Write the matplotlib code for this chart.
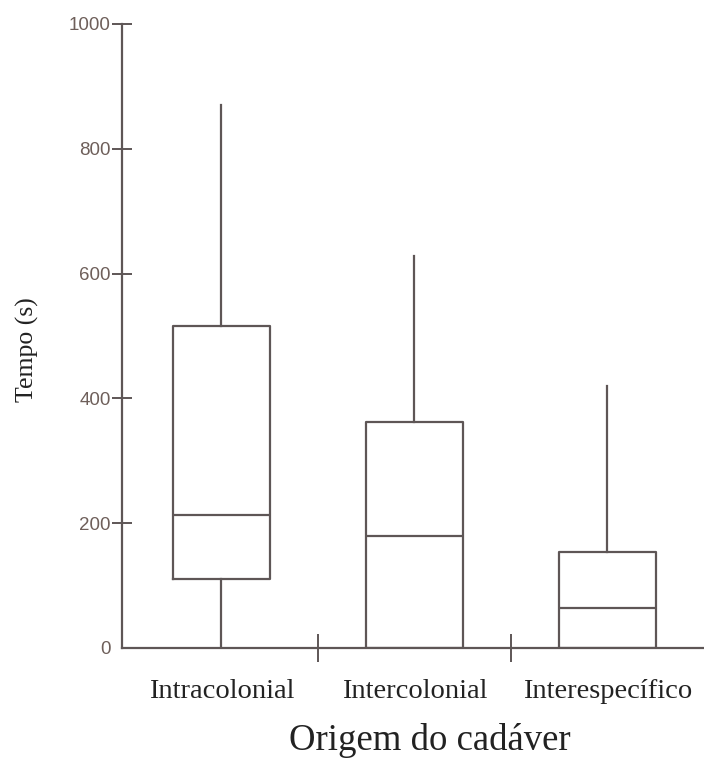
import matplotlib
matplotlib.use("Agg")
import matplotlib.pyplot as plt
from matplotlib.ticker import FixedLocator

categories = ["Intracolonial", "Intercolonial", "Interespecífico"]
q1 = [110, 0, 0]
median = [213, 180, 64]
q3 = [516, 362, 154]
whislo = [0, 0, 0]
whishi = [870, 628, 420]
yticks = [0, 200, 400, 600, 800, 1000]

line_c = "#5e5656"
tick_c = "#6e5f5a"

fig = plt.figure(figsize=(7.04, 7.83), dpi=100)
ax = fig.add_axes([122/704, 1-648/783, 1-122/704, (648-24)/783])

stats = []
for i, c in enumerate(categories):
    stats.append(dict(label=c, q1=q1[i], med=median[i], q3=q3[i],
                      whislo=whislo[i], whishi=whishi[i], fliers=[]))

lp = dict(color=line_c, linewidth=1.6)
ax.bxp(stats, positions=[1, 2, 3], widths=0.5, showcaps=False, showfliers=False,
       boxprops=lp, medianprops=lp, whiskerprops=lp, capprops=lp)

ax.set_xlim(0.485, 3.5)
ax.set_ylim(0, 1000)
for s in ["top", "right"]:
    ax.spines[s].set_visible(False)
for s in ["left", "bottom"]:
    ax.spines[s].set_color(line_c)
    ax.spines[s].set_linewidth(1.6)

ax.set_yticks(yticks)
ax.set_yticklabels([str(v) for v in yticks], fontsize=13.5, color=tick_c,
                   fontfamily="Liberation Sans")
ax.tick_params(axis="y", direction="inout", length=15, width=1.4, color=line_c, pad=0.5)
ax.yaxis.get_major_ticks()[0].tick1line.set_visible(False)

ax.set_xticks([1, 2, 3])
ax.set_xticklabels(categories, fontsize=20.5, fontfamily="Liberation Serif", color="#222222")
ax.tick_params(axis="x", which="major", length=0, pad=22)
ax.xaxis.set_minor_locator(FixedLocator([1.5, 2.5]))
ax.tick_params(axis="x", which="minor", direction="inout", length=19.5, width=1.4, color=line_c)

fig.text(27/704, 1-350/783, "Tempo (s)", rotation=90, ha="center", va="center",
         fontsize=18.5, fontfamily="Liberation Serif", color="#222222")
fig.text(430/704, 1-741/783, "Origem do cadáver", ha="center", va="center",
         fontsize=26.5, fontfamily="Liberation Serif", color="#222222")

fig.savefig("out.png", dpi=100)
